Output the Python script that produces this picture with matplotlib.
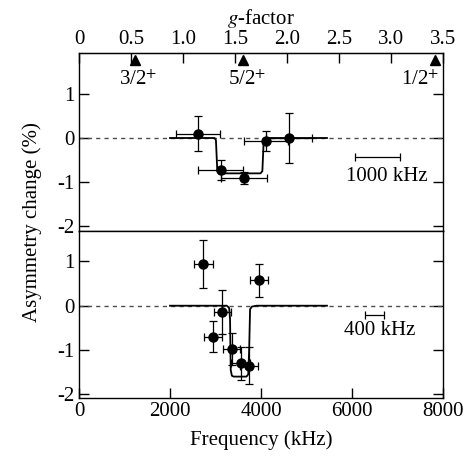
import numpy as np
import matplotlib.pyplot as plt

plt.rcParams['font.family'] = ['Liberation Serif', 'DejaVu Serif']
plt.rcParams['mathtext.fontset'] = 'stix'
plt.rcParams['axes.unicode_minus'] = False
plt.rcParams['font.size'] = 15

# upper panel (wide scan)
f_top = [2620, 3115, 3625, 4110, 4615]
fe_top = [490, 490, 500, 490, 495]
a_top = [0.10, -0.73, -0.91, -0.07, 0.00]
ae_top = [0.40, 0.23, 0.14, 0.23, 0.57]
fit_top_x = [2000, 2980, 3010, 3040, 3080, 3990, 4030, 4060, 4100, 5450]
fit_top_y = [0.0, 0.0, -0.05, -0.75, -0.80, -0.80, -0.75, -0.05, 0.0, 0.0]

# lower panel (narrow scan)
f_bot = [2735, 3955, 3150, 2950, 3355, 3550, 3735]
fe_bot = [200, 195, 190, 195, 190, 200, 190]
a_bot = [0.94, 0.57, -0.14, -0.70, -0.98, -1.30, -1.35]
ae_bot = [0.54, 0.37, 0.50, 0.35, 0.36, 0.37, 0.42]
fit_bot_x = [2000, 3250, 3300, 3320, 3335, 3360, 3400, 3680, 3720, 3740, 3760, 3800, 3900, 5450]
fit_bot_y = [0.0, 0.0, -0.05, -0.3, -1.45, -1.58, -1.60, -1.60, -1.55, -1.0, -0.08, -0.02, 0.0, 0.0]

# spin assignments on the g-factor scale
g_marks = [0.54, 1.58, 3.42]
spin_labels = ['3/2$^{+}$', '5/2$^{+}$', '1/2$^{+}$']

g_ticks = [0, 0.5, 1.0, 1.5, 2.0, 2.5, 3.0, 3.5]
g_ticklabels = ['0', '0.5', '1.0', '1.5', '2.0', '2.5', '3.0', '3.5']

fig = plt.figure(figsize=(4.7, 4.58), dpi=100)
ax1 = fig.add_axes([0.168, 0.496, 0.7746, 0.388])
ax2 = fig.add_axes([0.168, 0.1303, 0.7746, 0.3657])

for ax in (ax1, ax2):
    ax.set_xlim(0, 8000)
    ax.axhline(0, color='0.3', ls=(0, (3, 3)), lw=1)
    ax.set_yticks([-2, -1, 0, 1])
    ax.tick_params(direction='in', length=7, width=1, right=True, labelsize=15, pad=3)
    for s in ax.spines.values():
        s.set_linewidth(1)

ax1.set_ylim(-2.1, 1.92)
ax2.set_ylim(-2.09, 1.69)

ax1.plot(fit_top_x, fit_top_y, color='k', lw=1.3)
ax1.errorbar(f_top, a_top, xerr=fe_top, yerr=ae_top, fmt='o', color='k',
             ms=6.5, elinewidth=0.9, capsize=3, capthick=0.9)
ax2.plot(fit_bot_x, fit_bot_y, color='k', lw=1.3)
ax2.errorbar(f_bot, a_bot, xerr=fe_bot, yerr=ae_bot, fmt='o', color='k',
             ms=6.5, elinewidth=0.9, capsize=3, capthick=0.9)

# resolution bars
ax1.errorbar([6560], [-0.43], xerr=[500], color='k', lw=0.9, capsize=3, capthick=0.9)
ax1.text(6760, -0.87, '1000 kHz', ha='center', va='center', fontsize=15)
ax2.errorbar([6495], [-0.21], xerr=[200], color='k', lw=0.9, capsize=3, capthick=0.9)
ax2.text(6615, -0.57, '400 kHz', ha='center', va='center', fontsize=15)

ax1.tick_params(axis='x', bottom=False, labelbottom=False)
ax2.set_xticks([0, 2000, 4000, 6000, 8000])
ax2.set_xlabel('Frequency (kHz)', fontsize=15, labelpad=6)

# g-factor axis
to_g = lambda f: np.asarray(f) * 3.5 / 8000
to_f = lambda g: np.asarray(g) * 8000 / 3.5
sec = ax1.secondary_xaxis('top', functions=(to_g, to_f))
sec.set_xticks(g_ticks)
sec.set_xticklabels(g_ticklabels)
sec.tick_params(direction='in', length=7, width=1, labelsize=15, pad=3)
sec.set_xlabel('$g$-factor', fontsize=15, labelpad=4)

g_f = to_f(g_marks)
ax1.plot(g_f, [1.77] * len(g_f), '^', color='k', ms=7, clip_on=False)
ax1.text(g_f[0] + 60, 1.31, spin_labels[0], ha='center', va='center', fontsize=15)
ax1.text(g_f[1] + 80, 1.31, spin_labels[1], ha='center', va='center', fontsize=15)
ax1.text(g_f[2] + 100, 1.31, spin_labels[2], ha='right', va='center', fontsize=15)

fig.text(0.068, 0.515, 'Asymmetry change (%)', rotation=90, ha='center', va='center', fontsize=15)

fig.savefig('out.png', dpi=100)
